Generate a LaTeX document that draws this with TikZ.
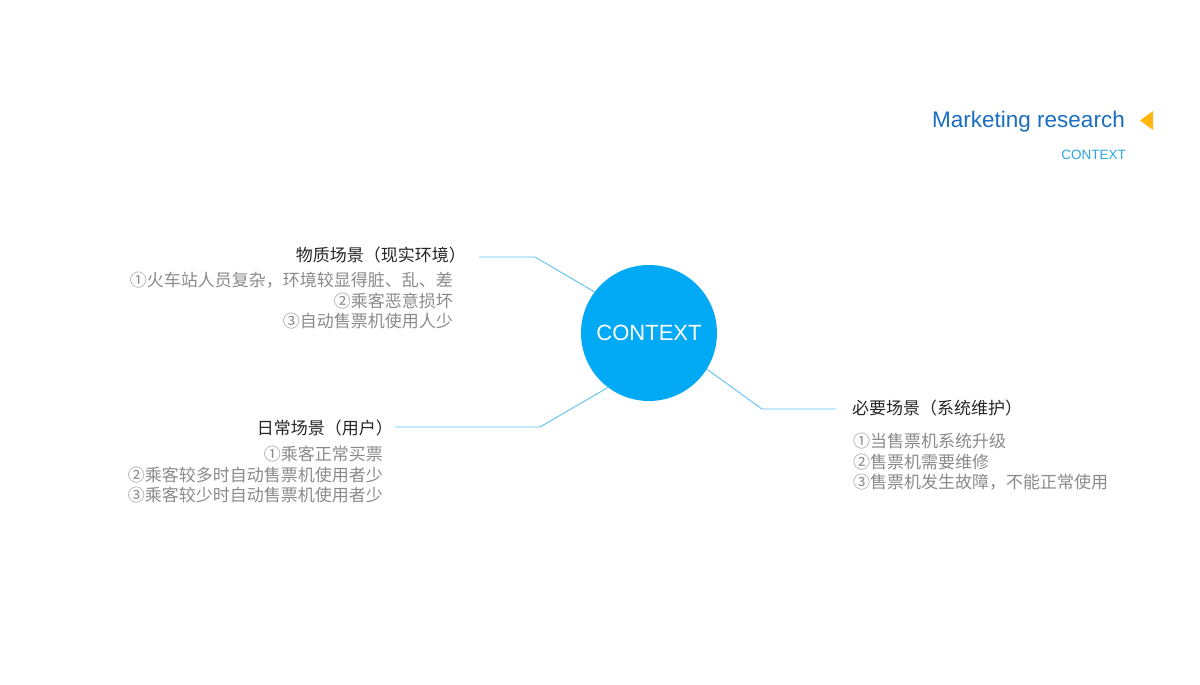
\documentclass[tikz,border=0pt]{standalone}
\usepackage{fontspec}
\setmainfont{Liberation Sans}
\newfontfamily\cjk{Noto Sans CJK SC}
\definecolor{ctxblue}{HTML}{02A9F4}
\definecolor{linkblue}{HTML}{5BC2F2}
\definecolor{headblue}{HTML}{1A6DBF}
\definecolor{subblue}{HTML}{2AA6E6}
\definecolor{itemgray}{HTML}{8A8A8A}
\definecolor{triyellow}{HTML}{FFB70F}
\begin{document}
\begin{tikzpicture}[x=1pt,y=-1pt,
  head/.style={inner sep=0pt,font=\cjk\fontsize{17}{20}\selectfont,text=black!85},
  items/.style={inner sep=0pt,font=\cjk\fontsize{17}{20.5}\selectfont,text=itemgray},
  link/.style={draw=linkblue,line width=0.9pt}]
\useasboundingbox (0,0) rectangle (1200,685);
% header
\node[anchor=east,inner sep=0pt,text=headblue,font=\fontsize{22.5}{26}\selectfont] (title) at (1125,122) {Marketing research};
\fill[triyellow] (1140,120.5) -- (1153,111) -- (1153,130) -- cycle;
\node[anchor=east,inner sep=0pt,text=subblue,font=\fontsize{13.5}{16}\selectfont] (sub) at (1126,155) {CONTEXT};
% centre
\node[circle,fill=ctxblue,minimum size=136pt,inner sep=0pt,text=white,font=\fontsize{22}{26}\selectfont] (ctx) at (649,333) {CONTEXT};
% top-left branch
\node[head,anchor=east] (h1) at (466,255) {物质场景（现实环境）};
\node[items,anchor=north east,align=right] (i1) at (453,272) {①火车站人员复杂，环境较显得脏、乱、差\\②乘客恶意损坏\\③自动售票机使用人少};
\coordinate (a1) at (479,257);
\coordinate (b1) at (535,257);
\draw[link] (a1) -- (b1) -- (ctx.143);
% bottom-left branch
\node[head,anchor=east] (h2) at (393,428) {日常场景（用户）};
\node[items,anchor=north east,align=right] (i2) at (383,446) {①乘客正常买票\\②乘客较多时自动售票机使用者少\\③乘客较少时自动售票机使用者少};
\coordinate (a2) at (395,427);
\coordinate (b2) at (540,427);
\draw[link] (a2) -- (b2) -- (ctx.233);
% right branch
\node[head,anchor=west] (h3) at (852,408) {必要场景（系统维护）};
\node[items,anchor=north west,align=left] (i3) at (853,433) {①当售票机系统升级\\②售票机需要维修\\③售票机发生故障，不能正常使用};
\coordinate (a3) at (836,409);
\coordinate (b3) at (762,409);
\draw[link] (a3) -- (b3) -- (ctx.-32);
\end{tikzpicture}
\end{document}
